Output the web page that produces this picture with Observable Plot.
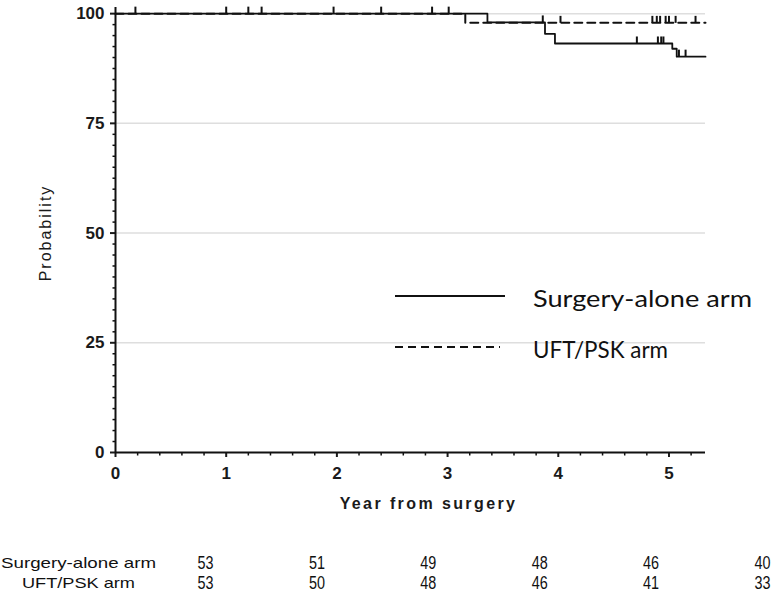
<!DOCTYPE html>
<html>
<head>
<meta charset="utf-8">
<script src="https://cdn.jsdelivr.net/npm/d3@7"></script>
<script src="https://cdn.jsdelivr.net/npm/@observablehq/plot@0.6"></script>
<style>
  html, body { margin: 0; padding: 0; background: #fff; }
  #wrap { position: relative; width: 774px; height: 598px; overflow: hidden; background: #fff; }
  #legend { position: absolute; left: 0; top: 0; pointer-events: none; }
</style>
</head>
<body>
<div id="wrap"></div>
<script>
// ---- data ----
const years = [0, 1, 2, 3, 4, 5];
const probTicks = [0, 25, 50, 75, 100];
const arms = ["Surgery-alone arm", "UFT/PSK arm"];

// Kaplan-Meier step curves (time in years, probability in %)
const surgeryTimes = [0, 3.36, 3.88, 3.97, 5.03, 5.07, 5.33];
const surgerySurv  = [100, 98.0, 95.4, 93.2, 92.0, 90.2, 90.2];
const uftTimes = [0, 3.16, 5.33];
const uftSurv  = [100, 97.9, 97.9];

// censoring marks (years)
const surgeryCensor = [0.18, 1.0, 1.32, 1.97, 2.86, 3.86, 4.71, 4.90, 4.93, 4.95, 5.09, 5.15];
const uftCensor     = [1.2, 2.4, 3.01, 4.02, 4.85, 4.89, 4.92, 4.97, 5.00, 5.06, 5.24];

// numbers at risk
const riskTimes   = [0, 1, 2, 3, 4, 5];
const surgeryRisk = [53, 51, 49, 48, 46, 40];
const uftRisk     = [53, 50, 48, 46, 41, 33];

// ---- helpers ----
const survAt = (times, surv, t) => { let v = surv[0]; times.forEach((x, i) => { if (x <= t) v = surv[i]; }); return v; };
const curveRows = (arm, times, surv) => times.map((t, i) => ({arm, t, s: surv[i]}));
const censorRows = (arm, times, surv, cs) => cs.map(t => ({arm, t, s: survAt(times, surv, t)}));

const surgCurve = curveRows(arms[0], surgeryTimes, surgerySurv);
const uftCurve = curveRows(arms[1], uftTimes, uftSurv);
const censors = [
  ...censorRows(arms[0], surgeryTimes, surgerySurv, surgeryCensor),
  ...censorRows(arms[1], uftTimes, uftSurv, uftCensor)
];

const minorX = d3.range(0, 5.3, 0.2).filter(v => Math.abs(v - Math.round(v)) > 1e-6);
const minorY = d3.range(0, 100.01, 2.5).filter(v => v % 25 !== 0);

const upTick = {draw(ctx) { ctx.moveTo(0, 0); ctx.lineTo(0, -7); }};
const downTick = {draw(ctx) { ctx.moveTo(0, 0); ctx.lineTo(0, 3); }};
const leftTick = {draw(ctx) { ctx.moveTo(0, 0); ctx.lineTo(-3, 0); }};

const main = Plot.plot({
  width: 774,
  height: 525,
  marginLeft: 115,
  marginRight: 69,
  marginTop: 7,
  marginBottom: 73,
  style: {fontFamily: "'Liberation Sans', Arial, sans-serif", fontSize: "17px", fontWeight: "bold", color: "#1a1a1a", background: "white"},
  x: {domain: [0, 5.33], ticks: years, tickSize: 5, tickPadding: 9, label: null, tickFormat: d => String(d)},
  y: {domain: [0, 101.4], ticks: probTicks, tickSize: 5, tickPadding: 6, label: null, tickFormat: d => String(d)},
  marks: [
    Plot.ruleY(probTicks.slice(1), {stroke: "#dedede", strokeWidth: 1.5}),
    Plot.dot(minorX, {x: d => d, y: () => 0, symbol: downTick, stroke: "#111", strokeWidth: 1.5, fill: "none"}),
    Plot.dot(minorY, {x: () => 0, y: d => d, symbol: leftTick, stroke: "#111", strokeWidth: 1.5, fill: "none"}),
    Plot.line(uftCurve, {x: "t", y: "s", curve: "step-after", stroke: "#111", strokeWidth: 2, strokeDasharray: "8,5"}),
    Plot.line(surgCurve, {x: "t", y: "s", curve: "step-after", stroke: "#111", strokeWidth: 1.8}),
    Plot.dot(censors, {x: "t", y: "s", symbol: upTick, stroke: "#111", strokeWidth: 2, fill: "none"}),
    Plot.ruleX([0], {stroke: "#111", strokeWidth: 2}),
    Plot.ruleY([0], {stroke: "#111", strokeWidth: 2}),
    Plot.text(["Year from surgery"], {frameAnchor: "bottom", dy: 51, dx: 18, lineAnchor: "middle", fontSize: 16, fill: "#1a1a1a"}),
    Plot.text(["Probability"], {frameAnchor: "left", dx: -70, dy: 3, rotate: -90, textAnchor: "middle", lineAnchor: "middle", fontSize: 16, fontWeight: "normal", fill: "#1a1a1a"})
  ]
});

d3.select(main).selectAll("text").filter(function() { return this.textContent === "Year from surgery"; }).style("letter-spacing", "2.4px");
d3.select(main).selectAll("text").filter(function() { return this.textContent === "Probability"; }).style("letter-spacing", "2px");
d3.select(main).selectAll('g[aria-label^="x-axis"] line, g[aria-label^="x-axis"] path, g[aria-label^="y-axis"] line, g[aria-label^="y-axis"] path').attr("stroke-width", 2);

// numbers-at-risk table
const riskRows = [];
riskTimes.forEach((t, i) => {
  riskRows.push({arm: arms[0], t, n: surgeryRisk[i]});
  riskRows.push({arm: arms[1], t, n: uftRisk[i]});
});

const risk = Plot.plot({
  width: 774,
  height: 73,
  marginLeft: 205,
  marginRight: 12,
  marginTop: 38,
  marginBottom: 15,
  x: {domain: [0, 5], axis: null},
  y: {type: "point", domain: arms, padding: 0, axis: null},
  style: {fontFamily: "'Liberation Sans', Arial, sans-serif", color: "#111", background: "white", overflow: "visible"},
  marks: [
    Plot.text(riskRows, {x: "t", y: "arm", text: d => String(d.n), fontSize: 18, fill: "#111"}),
    Plot.text(arms, {y: d => d, text: d => d, frameAnchor: "left", dx: -127, textAnchor: "middle", fontSize: 15, fill: "#111"})
  ]
});

const wrap = document.getElementById("wrap");
wrap.appendChild(main);
wrap.appendChild(risk);

// condense the table text like the reference's narrow font
const rowWidths = {"Surgery-alone arm": 155, "UFT/PSK arm": 113};
d3.select(risk).selectAll("text").each(function() {
  const t = this.textContent;
  const w = rowWidths[t] !== undefined ? rowWidths[t] : 16;
  this.setAttribute("textLength", w);
  this.setAttribute("lengthAdjust", "spacingAndGlyphs");
});

// legend overlay
const leg = d3.select(wrap).append("svg").attr("id", "legend").attr("width", 774).attr("height", 525);
const legItems = [
  {label: arms[0], y: 296, dash: null, x2: 505, w: 219},
  {label: arms[1], y: 347, dash: "8,5", x2: 500, w: 135}
];
legItems.forEach(it => {
  leg.append("line").attr("x1", 395).attr("x2", it.x2).attr("y1", it.y).attr("y2", it.y)
    .attr("stroke", "#111").attr("stroke-width", 2).attr("stroke-dasharray", it.dash);
  leg.append("text").attr("x", 533).attr("y", it.y + 1).attr("dominant-baseline", "central")
    .attr("font-family", "Lato, 'Open Sans', sans-serif").attr("font-size", 24).attr("fill", "#111")
    .attr("textLength", it.w).attr("lengthAdjust", "spacingAndGlyphs")
    .text(it.label);
});
</script>
</body>
</html>
